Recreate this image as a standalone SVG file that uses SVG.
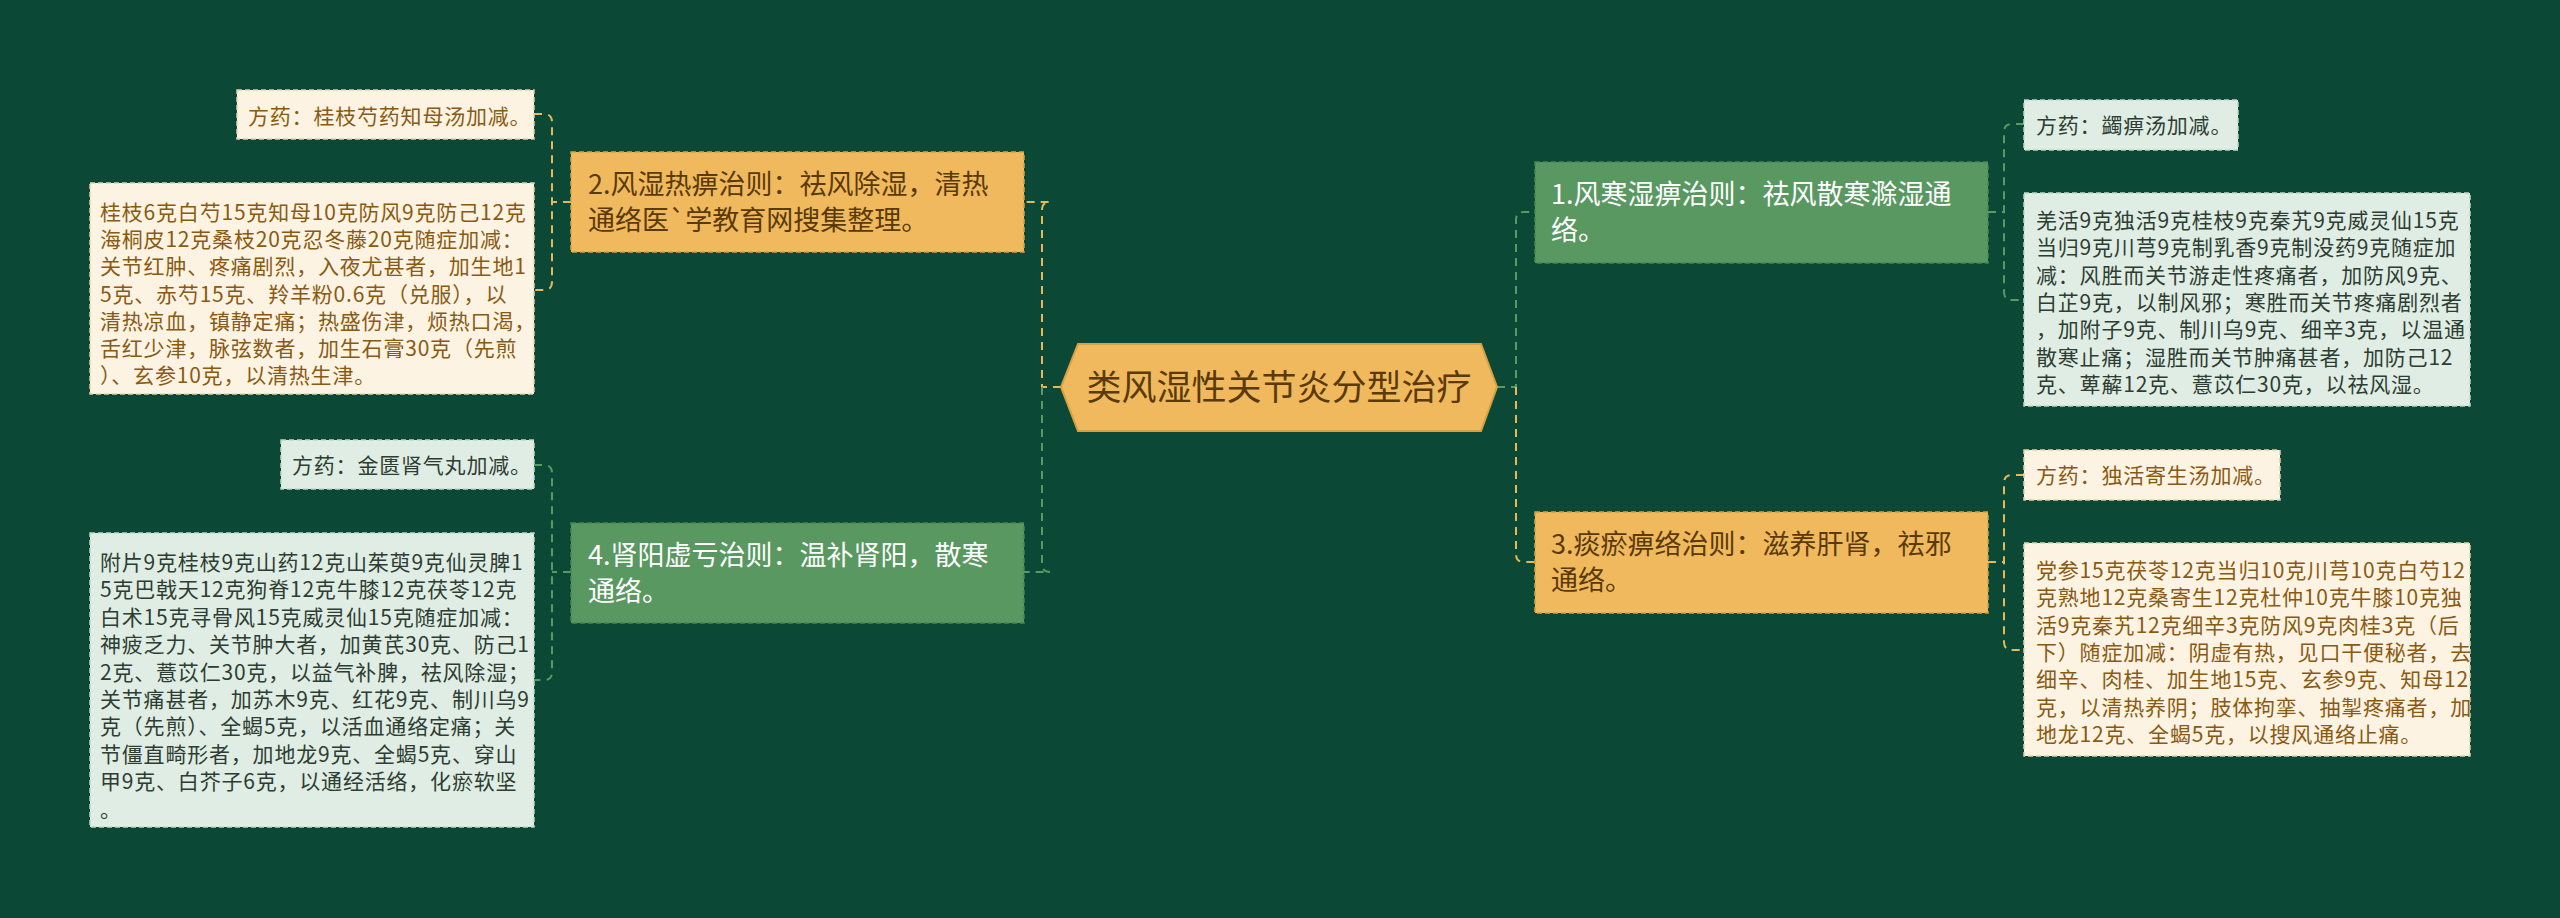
<svg xmlns="http://www.w3.org/2000/svg" width="2560" height="918" viewBox="0 0 2560 918">
<style>
text{font-family:"Noto Sans CJK SC","Liberation Sans",sans-serif}
.o{fill:#f0b95e;stroke:#d9a040;stroke-width:1.5;stroke-dasharray:5 3}
.g{fill:#5a9862;stroke:#4a8552;stroke-width:1.5;stroke-dasharray:5 3}
.c{fill:#fdf3e3;stroke:#e6cfa8;stroke-width:1.5;stroke-dasharray:5 3}
.l{fill:#e0ede4;stroke:#bfd6c6;stroke-width:1.5;stroke-dasharray:5 3}
.mt{font-size:27px}
.ot{fill:#5a3a08}
.gt{fill:#ffffff}
.lf{font-size:21px;letter-spacing:0.8px}
.ct{fill:#8a5a12}
.lt{fill:#2e3d33}
.co{fill:none;stroke:#e8b858;stroke-width:2;stroke-dasharray:8 6}
.cg{fill:none;stroke:#5a9a62;stroke-width:2;stroke-dasharray:8 6}
</style>
<rect width="2560" height="918" fill="#0b4936"/>
<g id="connectors">
<path class="co" d="M1061 387 H1042 V210 Q1042 202 1050 202 H571"/>
<path class="cg" d="M1042 387 V564 Q1042 572 1050 572 H1024"/>
<path class="cg" d="M1497 387 H1516 V220 Q1516 212 1524 212 H1535"/>
<path class="co" d="M1516 387 V554 Q1516 562 1524 562 H1535"/>
<path class="co" d="M571 202 H552 M534 114 H544 Q552 114 552 122 V282 Q552 290 544 290 H534"/>
<path class="cg" d="M571 572 H552 M534 465 H544 Q552 465 552 473 V672 Q552 680 544 680 H534"/>
<path class="cg" d="M1988 212 H2004 M2024 124 H2012 Q2004 124 2004 132 V292 Q2004 300 2012 300 H2024"/>
<path class="co" d="M1988 562 H2004 M2024 475 H2012 Q2004 475 2004 483 V642 Q2004 650 2012 650 H2024"/>
</g>
<g id="center">
<polygon points="1061,387 1078,344 1481,344 1497,387 1481,431 1078,431" fill="#f0b95e" stroke="#d9a040" stroke-width="2"/>
<text x="1279" y="400" font-size="35" text-anchor="middle" fill="#5a3a08">类风湿性关节炎分型治疗</text>
</g>
<g id="n2">
<rect class="o" x="571" y="152" width="453" height="100"/>
<text class="mt ot" x="588" y="194">2.风湿热痹治则：祛风除湿，清热</text>
<text class="mt ot" x="588" y="230">通络医`学教育网搜集整理。</text>
</g>
<g id="n4">
<rect class="g" x="571" y="523" width="453" height="100"/>
<text class="mt gt" x="588" y="565">4.肾阳虚亏治则：温补肾阳，散寒</text>
<text class="mt gt" x="588" y="601">通络。</text>
</g>
<g id="n1">
<rect class="g" x="1535" y="162" width="453" height="101"/>
<text class="mt gt" x="1551" y="204">1.风寒湿痹治则：祛风散寒滁湿通</text>
<text class="mt gt" x="1551" y="240">络。</text>
</g>
<g id="n3">
<rect class="o" x="1535" y="512" width="453" height="101"/>
<text class="mt ot" x="1551" y="554">3.痰瘀痹络治则：滋养肝肾，祛邪</text>
<text class="mt ot" x="1551" y="590">通络。</text>
</g>
<g id="l1">
<rect class="c" x="237" y="90" width="297" height="49"/>
<text class="lf ct" x="248" y="124">方药：桂枝芍药知母汤加减。</text>
</g>
<g id="l2">
<rect class="c" x="90" y="183" width="444" height="211"/>
<text class="lf ct" x="100"><tspan x="100" y="220">桂枝6克白芍15克知母10克防风9克防己12克</tspan><tspan x="100" dy="27.2">海桐皮12克桑枝20克忍冬藤20克随症加减：</tspan><tspan x="100" dy="27.2">关节红肿、疼痛剧烈，入夜尤甚者，加生地1</tspan><tspan x="100" dy="27.2">5克、赤芍15克、羚羊粉0.6克（兑服），以</tspan><tspan x="100" dy="27.2">清热凉血，镇静定痛；热盛伤津，烦热口渴，</tspan><tspan x="100" dy="27.2">舌红少津，脉弦数者，加生石膏30克（先煎</tspan><tspan x="100" dy="27.2">）、玄参10克，以清热生津。</tspan></text>
</g>
<g id="l3">
<rect class="l" x="281" y="440" width="253" height="49"/>
<text class="lf lt" x="292" y="473">方药：金匮肾气丸加减。</text>
</g>
<g id="l4">
<rect class="l" x="90" y="533" width="444" height="294"/>
<text class="lf lt"><tspan x="100" y="570">附片9克桂枝9克山药12克山茱萸9克仙灵脾1</tspan><tspan x="100" dy="27.4">5克巴戟天12克狗脊12克牛膝12克茯苓12克</tspan><tspan x="100" dy="27.4">白术15克寻骨风15克威灵仙15克随症加减：</tspan><tspan x="100" dy="27.4">神疲乏力、关节肿大者，加黄芪30克、防己1</tspan><tspan x="100" dy="27.4">2克、薏苡仁30克，以益气补脾，祛风除湿；</tspan><tspan x="100" dy="27.4">关节痛甚者，加苏木9克、红花9克、制川乌9</tspan><tspan x="100" dy="27.4">克（先煎）、全蝎5克，以活血通络定痛；关</tspan><tspan x="100" dy="27.4">节僵直畸形者，加地龙9克、全蝎5克、穿山</tspan><tspan x="100" dy="27.4">甲9克、白芥子6克，以通经活络，化瘀软坚</tspan><tspan x="100" dy="27.4">。</tspan></text>
</g>
<g id="r1">
<rect class="l" x="2024" y="100" width="214" height="50"/>
<text class="lf lt" x="2036" y="133">方药：蠲痹汤加减。</text>
</g>
<g id="r2">
<rect class="l" x="2024" y="193" width="446" height="213"/>
<text class="lf lt"><tspan x="2036" y="228">羌活9克独活9克桂枝9克秦艽9克威灵仙15克</tspan><tspan x="2036" dy="27.3">当归9克川芎9克制乳香9克制没药9克随症加</tspan><tspan x="2036" dy="27.3">减：风胜而关节游走性疼痛者，加防风9克、</tspan><tspan x="2036" dy="27.3">白芷9克，以制风邪；寒胜而关节疼痛剧烈者</tspan><tspan x="2036" dy="27.3">，加附子9克、制川乌9克、细辛3克，以温通</tspan><tspan x="2036" dy="27.3">散寒止痛；湿胜而关节肿痛甚者，加防己12</tspan><tspan x="2036" dy="27.3">克、萆薢12克、薏苡仁30克，以祛风湿。</tspan></text>
</g>
<g id="r3">
<rect class="c" x="2024" y="450" width="256" height="50"/>
<text class="lf ct" x="2036" y="483">方药：独活寄生汤加减。</text>
</g>
<g id="r4">
<rect class="c" x="2024" y="543" width="446" height="213"/>
<text class="lf ct"><tspan x="2036" y="578">党参15克茯苓12克当归10克川芎10克白芍12</tspan><tspan x="2036" dy="27.3">克熟地12克桑寄生12克杜仲10克牛膝10克独</tspan><tspan x="2036" dy="27.3">活9克秦艽12克细辛3克防风9克肉桂3克（后</tspan><tspan x="2036" dy="27.3">下）随症加减：阴虚有热，见口干便秘者，去</tspan><tspan x="2036" dy="27.3">细辛、肉桂、加生地15克、玄参9克、知母12</tspan><tspan x="2036" dy="27.3">克，以清热养阴；肢体拘挛、抽掣疼痛者，加</tspan><tspan x="2036" dy="27.3">地龙12克、全蝎5克，以搜风通络止痛。</tspan></text>
</g>
</svg>
